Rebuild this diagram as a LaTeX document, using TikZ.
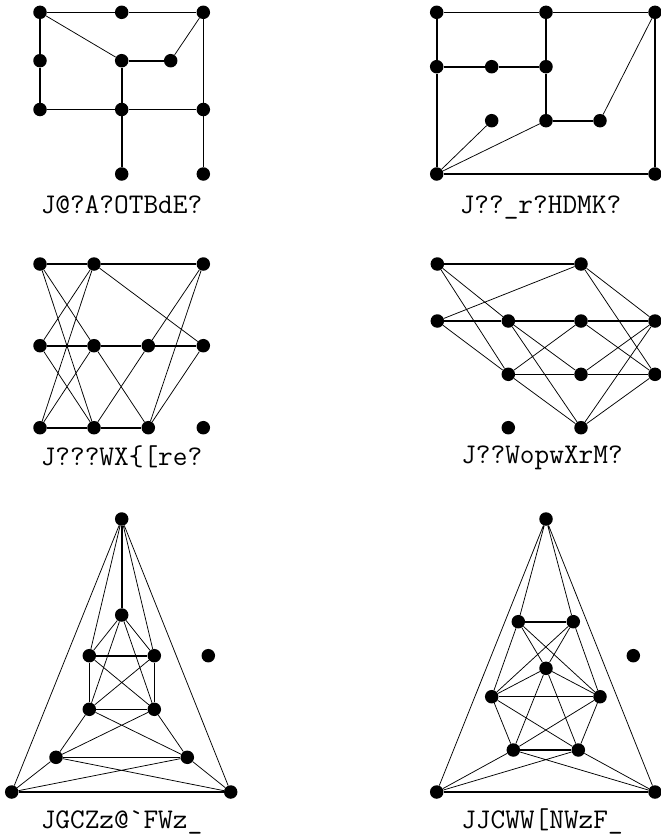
\documentclass[tikz,border=0pt]{standalone}
\usepackage{fontspec}
\begin{document}
\begin{tikzpicture}[x=1pt,y=-1pt,
  v/.style={circle,fill=black,draw=none,inner sep=0pt,minimum size=13.5pt},
  hv/.style={line width=1.6pt},
  lt/.style={line width=0.75pt},
  md/.style={line width=1.05pt},
  lbl/.style={font=\ttfamily\fontsize{28.5}{32}\selectfont,anchor=base,inner sep=0pt}]
\useasboundingbox (0,0) rectangle (661,835);

% ---------- Graph 1 ----------
\node[v] (a1) at (40,12.3) {};
\node[v] (a2) at (121.7,12.3) {};
\node[v] (a3) at (203.3,12.3) {};
\node[v] (a4) at (40,60.7) {};
\node[v] (a5) at (121.7,60.7) {};
\node[v] (a6) at (170.7,60.7) {};
\node[v] (a7) at (40,109.5) {};
\node[v] (a8) at (121.7,109.5) {};
\node[v] (a9) at (203.3,109.5) {};
\node[v] (a10) at (121.7,174) {};
\node[v] (a11) at (203.3,174) {};
\draw[hv] (a1)--(a2) (a2)--(a3) (a1)--(a4) (a4)--(a7) (a5)--(a6) (a5)--(a8) (a8)--(a10) (a3)--(a9) (a9)--(a11);
\draw[lt] (a1)--(a5) (a3)--(a6);
\draw[md] (a7)--(a8) (a8)--(a9);
\node[lbl] (t1) at (121.5,213) {J@?A?OTBdE?};

% ---------- Graph 2 ----------
\node[v] (b1) at (436.7,12.3) {};
\node[v] (b2) at (546,12.3) {};
\node[v] (b3) at (655,12.3) {};
\node[v] (b4) at (436.7,66.7) {};
\node[v] (b5) at (491.7,66.7) {};
\node[v] (b6) at (546,66.7) {};
\node[v] (b7) at (491.7,120.7) {};
\node[v] (b8) at (546,120.7) {};
\node[v] (b9) at (600,120.7) {};
\node[v] (b10) at (436.7,174) {};
\node[v] (b11) at (655,174) {};
\draw[hv] (b1)--(b2) (b2)--(b3) (b1)--(b4) (b4)--(b10) (b4)--(b5) (b5)--(b6) (b2)--(b6) (b6)--(b8) (b8)--(b9) (b3)--(b11) (b10)--(b11);
\draw[lt] (b9)--(b3) (b10)--(b7) (b10)--(b8);
\node[lbl] (t2) at (540.5,213) {J??\_r?HDMK?};

% ---------- Graph 3 ----------
\node[v] (c1) at (40,264) {};
\node[v] (c2) at (94,264) {};
\node[v] (c3) at (203.3,264) {};
\node[v] (c4) at (40,345.7) {};
\node[v] (c5) at (94,345.7) {};
\node[v] (c6) at (148.3,345.7) {};
\node[v] (c7) at (203.3,345.7) {};
\node[v] (c8) at (40,427.7) {};
\node[v] (c9) at (94,427.7) {};
\node[v] (c10) at (148.3,427.7) {};
\node[v] (c11) at (203.3,427.7) {};
\draw[hv] (c1)--(c2) (c2)--(c3) (c4)--(c5) (c5)--(c6) (c6)--(c7) (c8)--(c9) (c9)--(c10);
\draw[lt] (c1)--(c5) (c1)--(c9) (c2)--(c4) (c2)--(c8) (c2)--(c7) (c3)--(c6) (c3)--(c10)
          (c4)--(c9) (c5)--(c8) (c5)--(c10) (c6)--(c9) (c7)--(c10);
\node[lbl] (t3) at (121.5,465) {J???WX\{[re?};

% ---------- Graph 4 ----------
\node[v] (d1) at (437.3,264) {};
\node[v] (d2) at (581,264) {};
\node[v] (d3) at (437.3,321) {};
\node[v] (d4) at (508.3,321) {};
\node[v] (d5) at (581,321) {};
\node[v] (d6) at (655,321) {};
\node[v] (d7) at (508.3,374.3) {};
\node[v] (d8) at (581,374.3) {};
\node[v] (d9) at (655,374.3) {};
\node[v] (d10) at (508.3,427.7) {};
\node[v] (d11) at (581,427.7) {};
\draw[hv] (d1)--(d2) (d3)--(d4) (d4)--(d5) (d5)--(d6) (d7)--(d8) (d8)--(d9);
\draw[lt] (d1)--(d4) (d1)--(d7) (d2)--(d3) (d2)--(d6) (d2)--(d9) (d3)--(d7)
          (d4)--(d8) (d4)--(d11) (d5)--(d7) (d5)--(d9) (d6)--(d8) (d6)--(d11)
          (d7)--(d11) (d9)--(d11);
\node[lbl] (t4) at (542,463) {J??WopwXrM?};

% ---------- Graph 5 ----------
\node[v] (e1) at (121.7,519) {};
\node[v] (e2) at (121.7,615) {};
\node[v] (e3) at (89.3,655.7) {};
\node[v] (e4) at (154.3,655.7) {};
\node[v] (e5) at (208.3,655.7) {};
\node[v] (e6) at (89.3,709.3) {};
\node[v] (e7) at (154.3,709.3) {};
\node[v] (e8) at (56,757.3) {};
\node[v] (e9) at (187.3,757.3) {};
\node[v] (e10) at (11.7,792) {};
\node[v] (e11) at (230.7,792) {};
\draw[hv] (e1)--(e2) (e3)--(e4) (e3)--(e6) (e4)--(e7) (e6)--(e7) (e8)--(e9) (e10)--(e11);
\draw[lt] (e1)--(e10) (e1)--(e11) (e1)--(e3) (e1)--(e4)
          (e2)--(e3) (e2)--(e4) (e2)--(e6) (e2)--(e7)
          (e3)--(e7) (e4)--(e6)
          (e6)--(e8) (e6)--(e9) (e7)--(e8) (e7)--(e9)
          (e8)--(e10) (e8)--(e11) (e9)--(e10) (e9)--(e11);
\node[lbl] (t5) at (121.5,828) {JGCZz@`FWz\_};

% ---------- Graph 6 ----------
\node[v] (f1) at (546,519) {};
\node[v] (f2) at (518.3,621.7) {};
\node[v] (f3) at (573.3,621.7) {};
\node[v] (f4) at (546,668.3) {};
\node[v] (f5) at (633.3,655.7) {};
\node[v] (f6) at (491.7,696.7) {};
\node[v] (f7) at (600,696.7) {};
\node[v] (f8) at (513.3,750) {};
\node[v] (f9) at (578.3,750) {};
\node[v] (f10) at (436.7,792) {};
\node[v] (f11) at (655,792) {};
\draw[hv] (f10)--(f11) (f2)--(f3) (f8)--(f9);
\draw[md] (f6)--(f7);
\draw[lt] (f1)--(f10) (f1)--(f11) (f1)--(f2) (f1)--(f3)
          (f10)--(f8) (f10)--(f9) (f11)--(f8) (f11)--(f9)
          (f4)--(f6) (f4)--(f7)
          (f4)--(f2) (f4)--(f3) (f4)--(f8) (f4)--(f9)
          (f6)--(f2) (f6)--(f3) (f6)--(f8) (f6)--(f9)
          (f7)--(f2) (f7)--(f3) (f7)--(f8) (f7)--(f9);
\node[lbl] (t6) at (542,828) {JJCWW[NWzF\_};
\end{tikzpicture}
\end{document}
